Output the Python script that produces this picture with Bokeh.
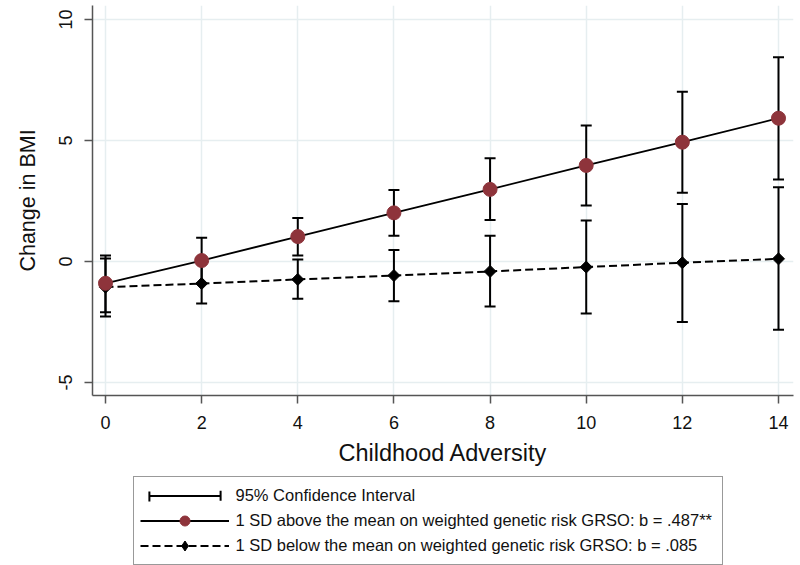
from bokeh.plotting import figure
from bokeh.layouts import column
from bokeh.models import (Range1d, FixedTicker, Whisker, ColumnDataSource,
                          Legend, LegendItem, TeeHead)
from bokeh.embed import file_html
from bokeh.resources import INLINE

# ---- data ----
adversity = [0, 2, 4, 6, 8, 10, 12, 14]
above_mean = [-0.90, 0.04, 1.03, 2.01, 2.98, 3.97, 4.93, 5.92]
above_lower = [-2.10, -0.90, 0.25, 1.06, 1.72, 2.31, 2.84, 3.39]
above_upper = [0.25, 0.98, 1.80, 2.96, 4.27, 5.62, 7.02, 8.44]
below_mean = [-1.06, -0.91, -0.74, -0.58, -0.41, -0.23, -0.05, 0.11]
below_lower = [-2.27, -1.74, -1.54, -1.64, -1.86, -2.15, -2.50, -2.82]
below_upper = [0.12, -0.08, 0.08, 0.48, 1.06, 1.69, 2.38, 3.07]

x_ticks = [0, 2, 4, 6, 8, 10, 12, 14]
y_ticks = [-5, 0, 5, 10]
y_tick_labels = ["-5", "0", "5", "10"]
x_title = "Childhood Adversity"
y_title = "Change in BMI"
ci_label = "95% Confidence Interval"
above_label = "1 SD above the mean on weighted genetic risk GRSO: b = .487**"
below_label = "1 SD below the mean on weighted genetic risk GRSO: b = .085"

FONT = "Liberation Sans"
MAROON = "#8E343B"

# ---------------- main chart ----------------
p = figure(width=800, height=470,
           x_range=Range1d(-0.2704, 14.312), y_range=Range1d(-5.537, 10.579),
           output_backend="svg", toolbar_location=None,
           min_border_left=92, min_border_right=7, min_border_top=5,
           min_border_bottom=75)
p.outline_line_color = None
p.background_fill_color = "white"
p.border_fill_color = "white"

p.xaxis.ticker = FixedTicker(ticks=x_ticks)
p.yaxis.ticker = FixedTicker(ticks=y_ticks)
p.yaxis.major_label_overrides = dict(zip(y_ticks, y_tick_labels))
for ax in (p.xaxis[0], p.yaxis[0]):
    ax.axis_line_color = "#555555"
    ax.axis_line_width = 1.5
    ax.major_tick_line_color = "#555555"
    ax.major_tick_line_width = 1.5
    ax.major_tick_out = 8
    ax.major_tick_in = 0
    ax.minor_tick_line_color = None
    ax.major_label_text_font = FONT
    ax.major_label_text_font_size = "18px"
    ax.major_label_text_color = "#111111"
    ax.major_label_standoff = 12
    ax.axis_label_text_font = FONT
    ax.axis_label_text_font_style = "normal"
    ax.axis_label_text_color = "#111111"
p.xaxis.axis_label = x_title
p.yaxis.axis_label = y_title
p.xaxis.axis_label_text_font_size = "23.5px"
p.yaxis.axis_label_text_font_size = "21.5px"
p.xaxis.axis_label_standoff = 8
p.yaxis.axis_label_standoff = 17
p.yaxis.major_label_orientation = "vertical"

p.xgrid.grid_line_color = "#E6EEF0"
p.ygrid.grid_line_color = "#E6EEF0"
p.xgrid.grid_line_width = 1.5
p.ygrid.grid_line_width = 1.5

lows = above_lower + below_lower
highs = above_upper + below_upper
ci_src = ColumnDataSource(dict(
    x=adversity + adversity,
    lo=lows,
    hi=highs,
    mid=[(a + b) / 2 for a, b in zip(lows, highs)],
    h=[b - a for a, b in zip(lows, highs)],
))
whisk = Whisker(base="x", lower="lo", upper="hi", source=ci_src, dimension="height",
                line_color="black", line_width=2,
                upper_head=TeeHead(size=11, line_width=2, line_color="black"),
                lower_head=TeeHead(size=11, line_width=2, line_color="black"))
p.add_layout(whisk)

above_src = ColumnDataSource(dict(x=adversity, y=above_mean))
below_src = ColumnDataSource(dict(x=adversity, y=below_mean))

p.line("x", "y", source=below_src, line_color="black", line_width=2, line_dash="8 4")
p.scatter("x", "y", source=below_src, marker="square", angle=0.785398,
          size=8.5, fill_color="black", line_color="black")
p.line("x", "y", source=above_src, line_color="black", line_width=1.8)
p.scatter("x", "y", source=above_src, marker="circle", size=14,
          fill_color=MAROON, line_color=MAROON)

# ---------------- legend panel ----------------
# ranges chosen so that none of the key renderers fall inside: only the legend shows
lg = figure(width=770, height=95, x_range=Range1d(-100, -99), y_range=Range1d(-100, -99),
            output_backend="svg", toolbar_location=None,
            x_axis_type=None, y_axis_type=None,
            min_border_left=0, min_border_right=0, min_border_top=0,
            min_border_bottom=0)
lg.outline_line_color = None
lg.grid.visible = False
lg.background_fill_color = "white"
lg.border_fill_color = "white"

k_caps = lg.rect(x="x", y="mid", width=0.01, height="h", source=ci_src,
                 fill_color=None, line_color="black", line_width=2,
                 line_dash="0 76 10 81 10 5")
k_bar = lg.segment(x0="x", y0="lo", x1="x", y1="hi", source=ci_src,
                   line_color="black", line_width=2, line_dash="0 9 71 9")
k_la = lg.line("x", "y", source=above_src, line_color="black", line_width=1.8)
k_ma = lg.scatter("x", "y", source=above_src, marker="circle", size=12,
                  fill_color=MAROON, line_color=MAROON)
k_lb = lg.line("x", "y", source=below_src, line_color="black", line_width=2,
               line_dash="8 4")
k_mb = lg.scatter("x", "y", source=below_src, marker="diamond", size=12,
                  fill_color="black", line_color="black")

legend = Legend(items=[
    LegendItem(label=ci_label, renderers=[k_caps, k_bar]),
    LegendItem(label=above_label, renderers=[k_la, k_ma]),
    LegendItem(label=below_label, renderers=[k_lb, k_mb]),
], location="top_center")
legend.glyph_width = 89
legend.glyph_height = 25
legend.label_height = 25
legend.label_width = 480
legend.spacing = 0
legend.padding = 6
legend.margin = 6
legend.label_standoff = 7
legend.label_text_font = FONT
legend.label_text_font_size = "16.5px"
legend.label_text_color = "#111111"
legend.border_line_color = "#333333"
legend.border_line_width = 1
legend.background_fill_color = "white"
legend.background_fill_alpha = 1
lg.add_layout(legend, "center")

layout = column(p, lg, spacing=0)
open("out.html", "w").write(file_html(layout, INLINE))
